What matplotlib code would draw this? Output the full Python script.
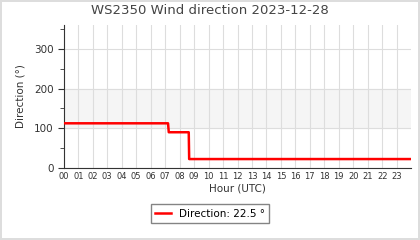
import matplotlib
matplotlib.use("Agg")
import matplotlib.pyplot as plt
from matplotlib.ticker import MultipleLocator

# wind direction samples (hour of day, degrees)
hours = [0.0, 7.2, 7.25, 8.63, 8.66, 24.0]
direction = [112.5, 112.5, 90.0, 90.0, 22.5, 22.5]
tick_labels = ["%02d" % h for h in range(24)]
last_value = 22.5

fig = plt.figure(figsize=(4.2, 2.4), dpi=100)
fig.patch.set_edgecolor("#dddddd")
fig.patch.set_linewidth(1.5)
ax = fig.add_axes([0.152, 0.30, 0.827, 0.596])

ax.axhspan(100, 200, color="#f5f5f5", zorder=0)
line, = ax.plot(hours, direction, color="#ff0000", lw=1.8, zorder=3,
                label="Direction: %.1f °" % last_value)

ax.set_xlim(0, 24)
ax.set_ylim(0, 360)
ax.set_xticks(range(24))
ax.set_xticklabels(tick_labels, fontsize=6, color="#333333")
ax.set_yticks([0, 100, 200, 300])
ax.yaxis.set_minor_locator(MultipleLocator(50))
ax.tick_params(axis="x", length=0, pad=3)
ax.tick_params(axis="y", labelsize=7.5, labelcolor="#333333", length=4, color="#333333")
ax.tick_params(axis="y", which="minor", length=3, color="#333333")
ax.grid(True, axis="both", which="major", color="#dddddd", lw=0.8, zorder=1)

for s in ["top", "right"]:
    ax.spines[s].set_visible(False)
for s in ["left", "bottom"]:
    ax.spines[s].set_color("#333333")

ax.set_xlabel("Hour (UTC)", fontsize=7.5, color="#333333", labelpad=2)
ax.set_ylabel("Direction (°)", fontsize=7.5, color="#333333", labelpad=6)
fig.suptitle("WS2350 Wind direction 2023-12-28", fontsize=9.5, color="#444444", y=0.985)

fig.legend(handles=[line], loc="center", bbox_to_anchor=(0.5, 0.11), fontsize=7.5,
           frameon=True, fancybox=False, edgecolor="#666666", handlelength=1.5)

fig.savefig("out.png", dpi=100)
